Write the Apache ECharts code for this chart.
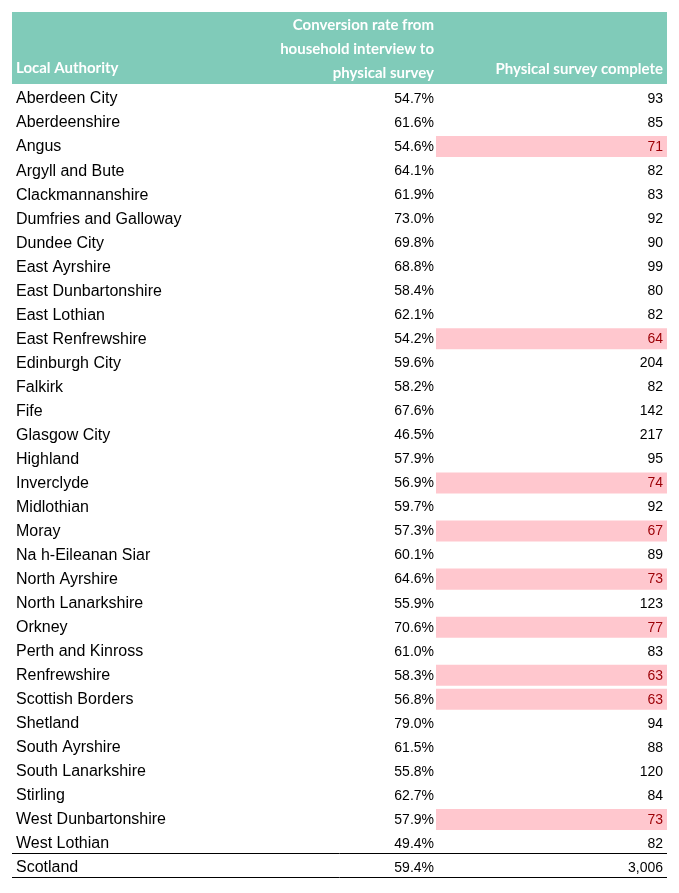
<!DOCTYPE html>
<html style="height: 100%">
<head>
<meta charset="utf-8">
<script src="https://cdn.jsdelivr.net/npm/echarts@6/dist/echarts.min.js"></script>
</head>
<body style="height: 100%; margin: 0; background: #fff">
<div id="container" style="width: 679px; height: 893px"></div>
<script>
// table contents
var authorities = ['Aberdeen City', 'Aberdeenshire', 'Angus', 'Argyll and Bute', 'Clackmannanshire',
  'Dumfries and Galloway', 'Dundee City', 'East Ayrshire', 'East Dunbartonshire', 'East Lothian',
  'East Renfrewshire', 'Edinburgh City', 'Falkirk', 'Fife', 'Glasgow City', 'Highland', 'Inverclyde',
  'Midlothian', 'Moray', 'Na h-Eileanan Siar', 'North Ayrshire', 'North Lanarkshire', 'Orkney',
  'Perth and Kinross', 'Renfrewshire', 'Scottish Borders', 'Shetland', 'South Ayrshire',
  'South Lanarkshire', 'Stirling', 'West Dunbartonshire', 'West Lothian', 'Scotland'];
var conversionRate = ['54.7%', '61.6%', '54.6%', '64.1%', '61.9%', '73.0%', '69.8%', '68.8%', '58.4%',
  '62.1%', '54.2%', '59.6%', '58.2%', '67.6%', '46.5%', '57.9%', '56.9%', '59.7%', '57.3%', '60.1%',
  '64.6%', '55.9%', '70.6%', '61.0%', '58.3%', '56.8%', '79.0%', '61.5%', '55.8%', '62.7%', '57.9%',
  '49.4%', '59.4%'];
var surveysComplete = [93, 85, 71, 82, 83, 92, 90, 99, 80, 82, 64, 204, 82, 142, 217, 95, 74, 92, 67,
  89, 73, 123, 77, 83, 63, 63, 94, 88, 120, 84, 73, 82, 3006];
var headers = ['Local Authority', 'Conversion rate from\nhousehold interview to\nphysical survey', 'Physical survey complete'];

var chart = echarts.init(document.getElementById('container'));
var data = authorities.map(function (a, i) { return [i, surveysComplete[i]]; });
var total = authorities.length - 1;

var bodyFont = '16px "Liberation Sans", Arial, sans-serif';
var numFont = '14px "Liberation Sans", Arial, sans-serif';

chart.setOption({
  animation: false,
  grid: { left: 12, right: 12, top: 87, bottom: 13 },
  xAxis: { type: 'value', min: 12, max: 667, show: false },
  yAxis: { type: 'category', data: authorities, inverse: true, show: false },
  graphic: [
    { type: 'rect', shape: { x: 12, y: 12, width: 655, height: 72 }, style: { fill: '#80cbb9' } },
    { type: 'text', left: 16, top: 61, style: { text: headers[0], fill: '#fff', font: 'bold 15px Lato, sans-serif' } },
    { type: 'text', x: 434, y: 13, style: { text: headers[1], fill: '#fff', align: 'right', lineHeight: 24, font: 'bold 15px Lato, sans-serif' } },
    { type: 'text', x: 663, y: 62, style: { text: headers[2], fill: '#fff', align: 'right', font: 'bold 15px Lato, sans-serif' } },
    { type: 'line', shape: { x1: 12, y1: 853.5, x2: 667, y2: 853.5 }, style: { stroke: '#000', lineWidth: 1 } },
    { type: 'line', shape: { x1: 12, y1: 877.5, x2: 667, y2: 877.5 }, style: { stroke: '#000', lineWidth: 1 } }
  ],
  series: [{
    type: 'custom',
    data: data,
    encode: { x: 1, y: 0 },
    renderItem: function (params, api) {
      var i = api.value(0);
      var c = api.coord([12, i]);
      var h = api.size([0, 1])[1];
      var y = c[1];
      var flagged = i < total && surveysComplete[i] < 80;
      var children = [];
      if (flagged) {
        children.push({ type: 'rect', shape: { x: api.coord([436, i])[0], y: y - h / 2 + 1, width: 231, height: h - 3 }, style: { fill: '#ffc7ce' } });
      }
      children.push({ type: 'text', style: { x: 16, y: y, text: authorities[i], font: bodyFont, fill: '#000', verticalAlign: 'middle' } });
      children.push({ type: 'text', style: { x: 434, y: y, text: conversionRate[i], font: numFont, fill: '#000', align: 'right', verticalAlign: 'middle' } });
      children.push({ type: 'text', style: { x: 663, y: y, text: surveysComplete[i].toLocaleString('en-GB'), font: numFont, fill: flagged ? '#9c0006' : '#000', align: 'right', verticalAlign: 'middle' } });
      return { type: 'group', children: children };
    }
  }]
});
</script>
</body>
</html>
